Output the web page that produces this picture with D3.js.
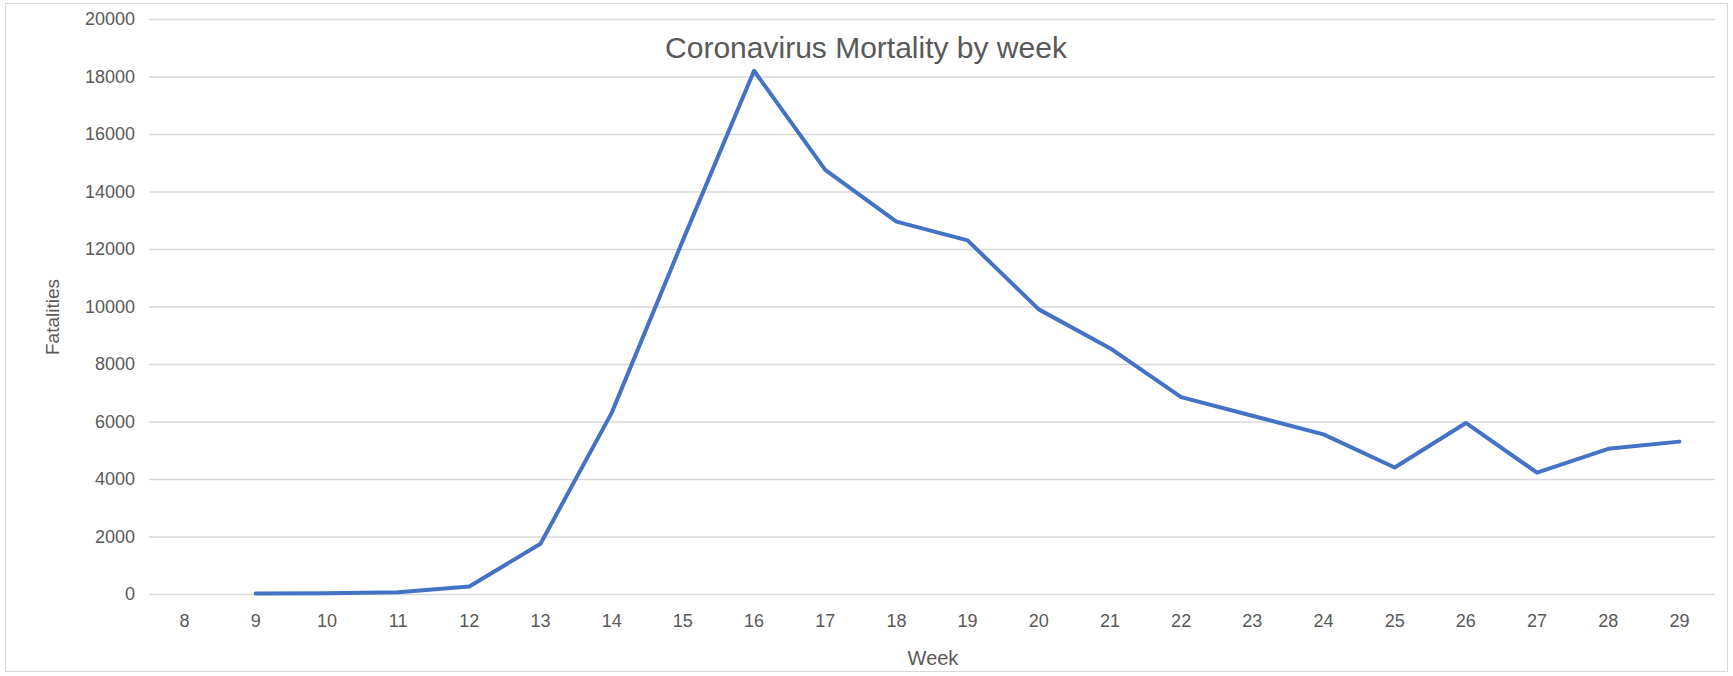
<!DOCTYPE html>
<html><head><meta charset="utf-8">
<script src="https://cdn.jsdelivr.net/npm/d3@7"></script>
<style>body{margin:0;background:#fff}svg{display:block}text{font-family:"Liberation Sans",Arial,sans-serif;fill:#595959}</style>
</head><body><svg id="c" width="1733" height="676"></svg>
<script>
const weeks = [8,9,10,11,12,13,14,15,16,17,18,19,20,21,22,23,24,25,26,27,28,29];
const fatalities = [null,20,30,60,260,1750,6300,12300,18200,14750,12950,12300,9900,8550,6850,6200,5550,4400,5950,4220,5050,5300];
const yTicks = [0,2000,4000,6000,8000,10000,12000,14000,16000,18000,20000];
const title = "Coronavirus Mortality by week";

const svg = d3.select("#c");
const m = {l:149, r:1715, t:19, b:594};
svg.append("rect").attr("x",5.5).attr("y",3.5).attr("width",1722).attr("height",668).attr("fill","none").attr("stroke","#d9d9d9");
const x = d3.scaleBand().domain(weeks).range([m.l,m.r]);
const y = d3.scaleLinear().domain([0,20000]).range([m.b,m.t]);
const ya = svg.append("g").attr("transform",`translate(${m.l},0)`)
  .call(d3.axisLeft(y).tickValues(yTicks).tickSize(-(m.r-m.l)).tickPadding(14).tickFormat(d=>d));
ya.select(".domain").remove();
ya.selectAll("line").attr("stroke","#d9d9d9").attr("stroke-width",1.3);
ya.selectAll("text").style("font-size","18px").attr("fill","#595959");
const xa = svg.append("g").attr("transform",`translate(0,${m.b})`)
  .call(d3.axisBottom(x).tickSize(0).tickPadding(20));
xa.select(".domain").remove();
xa.selectAll("text").style("font-size","18px").attr("fill","#595959");
const line = d3.line().defined(d=>d[1]!=null).x(d=>x(d[0])+x.bandwidth()/2).y(d=>y(d[1]));
svg.append("path").datum(weeks.map((w,i)=>[w,fatalities[i]])).attr("d",line)
  .attr("fill","none").attr("stroke","#4472C4").attr("stroke-width",4).attr("stroke-linejoin","round").attr("stroke-linecap","round");
svg.append("text").attr("x",866).attr("y",58).attr("text-anchor","middle").style("font-size","30px").text(title);
svg.append("text").attr("x",933).attr("y",665).attr("text-anchor","middle").style("font-size","20px").text("Week");
svg.append("text").attr("transform","translate(59,317) rotate(-90)").attr("text-anchor","middle").style("font-size","19px").text("Fatalities");
</script></body></html>
